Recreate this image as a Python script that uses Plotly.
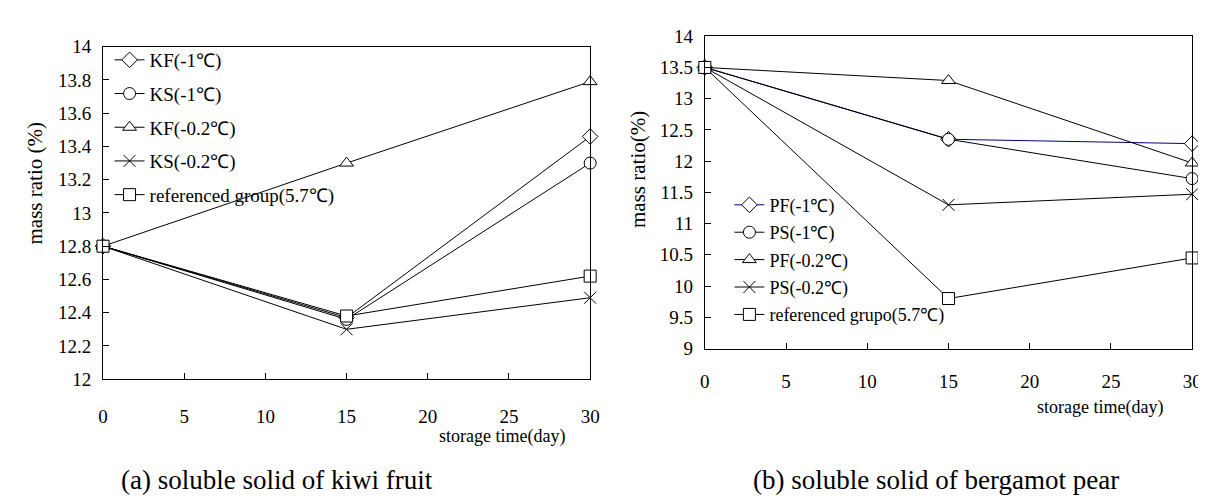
import plotly.graph_objects as go

# storage time (day)
days = [0, 15, 30]

# (a) kiwi fruit soluble solid, mass ratio (%)
kiwi_names = ["KF(-1℃)", "KS(-1℃)", "KF(-0.2℃)", "KS(-0.2℃)", "referenced group(5.7℃)"]
kf_m1 = [12.8, 12.37, 13.46]
ks_m1 = [12.8, 12.36, 13.30]
kf_m02 = [12.8, 13.30, 13.79]
ks_m02 = [12.8, 12.30, 12.49]
kiwi_ref = [12.8, 12.38, 12.62]

# (b) bergamot pear soluble solid, mass ratio (%)
pear_names = ["PF(-1℃)", "PS(-1℃)", "PF(-0.2℃)", "PS(-0.2℃)", "referenced grupo(5.7℃)"]
pf_m1 = [13.5, 12.35, 12.28]
ps_m1 = [13.5, 12.35, 11.72]
pf_m02 = [13.5, 13.29, 11.97]
ps_m02 = [13.5, 11.30, 11.47]
pear_ref = [13.5, 9.80, 10.45]

symbols = ["diamond", "circle", "triangle-up", "x-thin", "square"]
serif = "Liberation Serif, Times New Roman, serif"

fig = go.Figure()

kiwi_series = [kf_m1, ks_m1, kf_m02, ks_m02, kiwi_ref]
for i, ys in enumerate(kiwi_series):
    fig.add_trace(go.Scatter(
        x=days, y=ys, name=kiwi_names[i], mode="lines+markers",
        line=dict(color="black", width=1),
        marker=dict(symbol=symbols[i], size=12, color="white",
                    line=dict(color="black", width=1)),
        xaxis="x", yaxis="y", legend="legend", legendgroup="k%d" % i, cliponaxis=False))

pear_series = [pf_m1, ps_m1, pf_m02, ps_m02, pear_ref]
for i, ys in enumerate(pear_series):
    col = "#000080" if i == 0 else "black"
    fig.add_trace(go.Scatter(
        x=days, y=ys, name=pear_names[i], mode="lines+markers",
        line=dict(color=col, width=1),
        marker=dict(symbol=symbols[i], size=12, color="white",
                    line=dict(color="black", width=1)),
        xaxis="x2", yaxis="y2", legend="legend2", legendgroup="p%d" % i, cliponaxis=False))

axis_common = dict(showline=True, linecolor="black", linewidth=1, mirror=True,
                   showgrid=False, zeroline=False, ticks="inside", ticklen=6,
                   tickcolor="black", tickfont=dict(family=serif, size=19, color="black"))

fig.update_layout(
    width=1206, height=500,
    margin=dict(l=0, r=0, t=0, b=0),
    paper_bgcolor="white", plot_bgcolor="white",
    xaxis=dict(domain=[0.0755, 0.4842], range=[0, 30], tickvals=[0, 5, 10, 15, 20, 25, 30],
               ticklabelstandoff=20, **axis_common),
    yaxis=dict(domain=[0.246, 0.94], range=[12, 14], dtick=0.2, tickformat="~g",
               ticklabelstandoff=7, **axis_common),
    xaxis2=dict(domain=[0.5804, 0.9892], range=[0, 30], tickvals=[0, 5, 10, 15, 20, 25, 30],
                ticklabelstandoff=16, anchor="y2", **axis_common),
    yaxis2=dict(domain=[0.31, 0.962], range=[9, 14], dtick=0.5, tickformat="~g",
                ticklabelstandoff=7, anchor="x2", **axis_common),
    legend=dict(x=0.081, y=0.952, xanchor="left", yanchor="top", bgcolor="rgba(0,0,0,0)",
                font=dict(family=serif, size=19, color="black"),
                traceorder="grouped", tracegroupgap=6, itemwidth=30),
    legend2=dict(x=0.601, y=0.648, xanchor="left", yanchor="top", bgcolor="rgba(0,0,0,0)",
                 font=dict(family=serif, size=18, color="black"),
                 traceorder="grouped", tracegroupgap=1, itemwidth=30),
    showlegend=True,
)

notes = [
    dict(text="mass ratio (%)", x=22, y=173, textangle=-90, size=21),
    dict(text="mass ratio(%)", x=633, y=158, textangle=-90, size=21),
    dict(text="storage time(day)", x=495, y=437, textangle=0, size=18),
    dict(text="storage time(day)", x=1100, y=407, textangle=0, size=18),
]
for n in notes:
    fig.add_annotation(text=n["text"], x=n["x"] / 1206, y=1 - n["y"] / 500,
                       xref="paper", yref="paper", showarrow=False, textangle=n["textangle"],
                       xanchor="center", yanchor="middle",
                       font=dict(family=serif, size=n["size"], color="black"))

captions = [("(a) soluble solid of kiwi fruit", 267), ("(b) soluble solid of bergamot pear", 934)]
for txt, cx in captions:
    fig.add_annotation(text=txt, x=cx / 1206, y=1 - 482 / 500, xref="paper", yref="paper",
                       xanchor="center", yanchor="middle", showarrow=False,
                       font=dict(family=serif, size=27, color="black"))

fig.write_html("out.html")
